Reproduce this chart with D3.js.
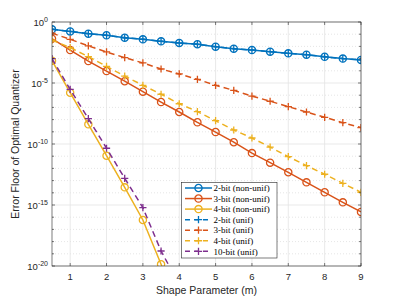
<!DOCTYPE html>
<html>
<head>
<meta charset="utf-8">
<script src="https://cdn.jsdelivr.net/npm/d3@7"></script>
<style>
  body { margin: 0; background: #fff; }
  svg { display: block; }
</style>
</head>
<body>
<div id="chart"></div>
<script>
// shape parameter values
var shapeM = [0.5, 1, 1.5, 2, 2.5, 3, 3.5, 4, 4.5, 5, 5.5, 6, 6.5, 7, 7.5, 8, 8.5, 9];

// error floor
var nonUnif2 = [2.5e-1, 1.7e-1, 1.1e-1, 8.1e-2, 5.1e-2, 3.8e-2, 2.6e-2, 1.9e-2, 1.5e-2,
    9.5e-3, 6.5e-3, 5.0e-3, 3.7e-3, 2.7e-3, 2.1e-3, 1.4e-3, 1.0e-3, 7.8e-4];
var nonUnif3 = [4.3e-2, 5.0e-3, 6.3e-4, 9.5e-5, 1.4e-5, 1.95e-6, 2.75e-7, 4.2e-8, 6.0e-9,
    9.5e-10, 1.4e-10, 1.8e-11, 2.95e-12, 4.8e-13, 7.2e-14, 1.1e-14, 1.65e-15, 2.7e-16];
var nonUnif4 = [6.8e-4, 1.6e-6, 4.1e-9, 1.1e-11, 2.8e-14, 5.9e-17, 1.4e-20, 3e-24];
var unif2 = nonUnif2.slice();
var unif3 = [1.2e-1, 3.8e-2, 1.1e-2, 3.5e-3, 1.2e-3, 4.4e-4, 1.4e-4, 5.5e-5, 2.0e-5,
    6.5e-6, 2.5e-6, 8.5e-7, 3.2e-7, 1.15e-7, 4.2e-8, 1.55e-8, 5.6e-9, 2.2e-9];
var unif4 = [3.3e-2, 7.9e-3, 1.45e-3, 2.3e-4, 3.7e-5, 6.5e-6, 1.2e-6, 2.0e-7, 4.5e-8,
    8.1e-9, 1.4e-9, 3.1e-10, 5.6e-11, 9.1e-12, 1.7e-12, 3.3e-13, 6.0e-14, 1.1e-14];
var unif10 = [9.8e-4, 3.0e-6, 1.2e-8, 4.5e-11, 1.55e-13, 6.0e-16, 1.7e-19, 3e-22];

var xTicks = [1, 2, 3, 4, 5, 6, 7, 8, 9];
var yTickExp = [0, -5, -10, -15, -20];

var series = [
    {name: '2-bit (non-unif)', values: nonUnif2, color: '#0072BD', dash: null, marker: 'o'},
    {name: '3-bit (non-unif)', values: nonUnif3, color: '#D95319', dash: null, marker: 'o'},
    {name: '4-bit (non-unif)', values: nonUnif4, color: '#EDB120', dash: null, marker: 'o'},
    {name: '2-bit (unif)', values: unif2, color: '#0072BD', dash: '6,4', marker: '+'},
    {name: '3-bit (unif)', values: unif3, color: '#D95319', dash: '6,4', marker: '+'},
    {name: '4-bit (unif)', values: unif4, color: '#EDB120', dash: '6,4', marker: '+'},
    {name: '10-bit (unif)', values: unif10, color: '#7E2F8E', dash: '6,4', marker: '+'}
];

var W = 399, H = 299;
var margin = {top: 22, right: 38, bottom: 33, left: 52},
    width = W - margin.left - margin.right,
    height = H - margin.top - margin.bottom;

var x = d3.scaleLinear().domain([0.5, 9]).range([0, width]);
var y = d3.scaleLog().domain([1e-20, 1]).range([height, 0]);

var svg = d3.select('#chart').append('svg')
    .attr('width', W).attr('height', H)
    .style('font-family', '"Liberation Sans", Arial, sans-serif');

var main = svg.append('g')
    .attr('transform', 'translate(' + margin.left + ',' + margin.top + ')');

main.append('rect').attr('width', width).attr('height', height).attr('fill', '#fff');

// minor grid (every decade)
var decades = d3.range(0, -21, -1);
main.append('g').selectAll('line')
    .data(decades.filter(function (d) { return d % 5 !== 0; }))
    .enter().append('line')
    .attr('x1', 0).attr('x2', width)
    .attr('y1', function (d) { return y(Math.pow(10, d)); })
    .attr('y2', function (d) { return y(Math.pow(10, d)); })
    .attr('stroke', '#d4d4d4').attr('stroke-width', 0.6)
    .attr('stroke-dasharray', '1,2');

// major grid
main.append('g').selectAll('line')
    .data(yTickExp)
    .enter().append('line')
    .attr('x1', 0).attr('x2', width)
    .attr('y1', function (d) { return y(Math.pow(10, d)); })
    .attr('y2', function (d) { return y(Math.pow(10, d)); })
    .attr('stroke', '#e3e3e3').attr('stroke-width', 0.8);
main.append('g').selectAll('line')
    .data(xTicks)
    .enter().append('line')
    .attr('y1', 0).attr('y2', height)
    .attr('x1', function (d) { return x(d); })
    .attr('x2', function (d) { return x(d); })
    .attr('stroke', '#e3e3e3').attr('stroke-width', 0.8);

// data
main.append('clipPath').attr('id', 'plotclip')
    .append('rect').attr('width', width).attr('height', height);

var plot = main.append('g').attr('clip-path', 'url(#plotclip)');

var line = d3.line()
    .x(function (d) { return x(d[0]); })
    .y(function (d) { return y(d[1]); });

function drawMarker(g, type, color) {
    if (type === 'o') {
        g.append('circle').attr('r', 3.6)
            .attr('fill', 'none').attr('stroke', color).attr('stroke-width', 1.3);
    } else {
        g.append('path').attr('d', 'M-3.6,0H3.6M0,-3.6V3.6')
            .attr('stroke', color).attr('stroke-width', 1.3);
    }
}

series.forEach(function (s) {
    var pts = s.values.map(function (v, i) { return [shapeM[i], v]; });
    plot.append('path')
        .datum(pts)
        .attr('d', line)
        .attr('fill', 'none')
        .attr('stroke', s.color)
        .attr('stroke-width', 1.5)
        .attr('stroke-dasharray', s.dash);
    plot.selectAll(null)
        .data(pts)
        .enter().append('g')
        .attr('transform', function (d) { return 'translate(' + x(d[0]) + ',' + y(d[1]) + ')'; })
        .each(function () { drawMarker(d3.select(this), s.marker, s.color); });
});

// axes box and ticks (inside, all four sides)
var axisColor = '#262626';
main.append('rect').attr('width', width).attr('height', height)
    .attr('fill', 'none').attr('stroke', axisColor).attr('stroke-width', 0.6);

var ticks = main.append('g').attr('stroke', axisColor).attr('stroke-width', 0.6);
xTicks.forEach(function (t) {
    ticks.append('line').attr('x1', x(t)).attr('x2', x(t)).attr('y1', height).attr('y2', height - 3);
    ticks.append('line').attr('x1', x(t)).attr('x2', x(t)).attr('y1', 0).attr('y2', 3);
});
decades.forEach(function (d) {
    var len = d % 5 === 0 ? 3 : 2;
    var yy = y(Math.pow(10, d));
    ticks.append('line').attr('x1', 0).attr('x2', len).attr('y1', yy).attr('y2', yy);
    ticks.append('line').attr('x1', width).attr('x2', width - len).attr('y1', yy).attr('y2', yy);
});

// tick labels
main.append('g').selectAll('text')
    .data(xTicks)
    .enter().append('text')
    .attr('x', function (d) { return x(d); })
    .attr('y', height + 14)
    .attr('text-anchor', 'middle')
    .attr('font-size', 9.5)
    .attr('fill', axisColor)
    .text(function (d) { return d; });

var yl = main.append('g').selectAll('text')
    .data(yTickExp)
    .enter().append('text')
    .attr('x', -4)
    .attr('y', function (d) { return y(Math.pow(10, d)) + 3.5; })
    .attr('text-anchor', 'end')
    .attr('font-size', 9.5)
    .attr('fill', axisColor);
yl.append('tspan').text('10');
yl.append('tspan').attr('dy', -4).attr('font-size', 7)
    .text(function (d) { return d === 0 ? '0' : '-' + (-d); });

// axis labels
svg.append('text')
    .attr('x', margin.left + width / 2)
    .attr('y', H - 5)
    .attr('text-anchor', 'middle')
    .attr('font-size', 10.5)
    .attr('fill', axisColor)
    .text('Shape Parameter (m)');

svg.append('text')
    .attr('transform', 'translate(19,' + (margin.top + height / 2) + ') rotate(-90)')
    .attr('text-anchor', 'middle')
    .attr('font-size', 10.5)
    .attr('fill', axisColor)
    .text('Error Floor of Optimal Quantizer');

// legend
var lg = svg.append('g').attr('transform', 'translate(181.5,182.5)');
lg.append('rect').attr('width', 95.5).attr('height', 75.5)
    .attr('fill', '#fff').attr('stroke', axisColor).attr('stroke-width', 0.6);
series.forEach(function (s, i) {
    var row = lg.append('g').attr('transform', 'translate(0,' + (5.5 + i * 10.55) + ')');
    row.append('line').attr('x1', 3.5).attr('x2', 30.5).attr('y1', 0).attr('y2', 0)
        .attr('stroke', s.color).attr('stroke-width', 1.5)
        .attr('stroke-dasharray', s.dash ? '5,4' : null);
    var m = row.append('g').attr('transform', 'translate(17,0)');
    drawMarker(m, s.marker, s.color);
    row.append('text').attr('x', 32).attr('y', 3.2)
        .attr('font-family', '"Liberation Serif", "DejaVu Serif", serif')
        .attr('font-size', 9)
        .attr('fill', '#000')
        .text(s.name);
});
</script>
</body>
</html>
